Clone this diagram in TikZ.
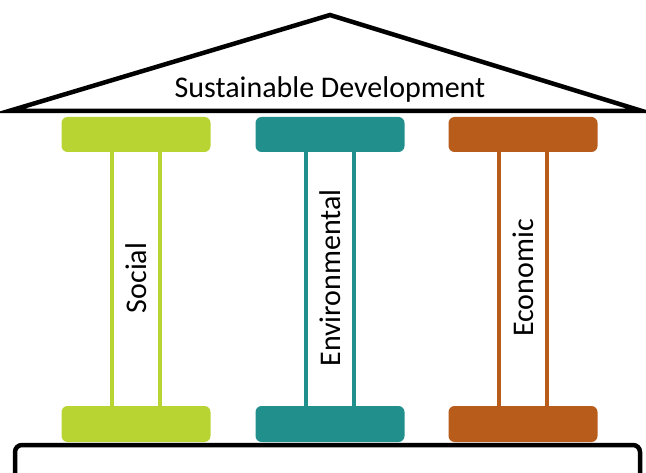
\documentclass[tikz,border=0pt]{standalone}
\usepackage{fontspec}
\setmainfont{Carlito}
\definecolor{cgreen}{HTML}{B8D432}
\definecolor{cteal}{HTML}{21908D}
\definecolor{corange}{HTML}{B85C1C}
\begin{document}
\begin{tikzpicture}[x=1pt,y=-1pt,
  capbox/.style={rounded corners=6pt,fill=#1,draw=none},
  shaft/.style={draw=#1,line width=4pt},
  roofline/.style={draw=black,line width=4.5pt,line join=miter},
  lbl/.style={font=\fontsize{30}{36}\selectfont,inner sep=0pt,text=black}]
\useasboundingbox (0,0) rectangle (646,473);
% roof
\coordinate (apex) at (330,15);
\coordinate (rl) at (9,111);
\coordinate (rr) at (642,111);
\draw[roofline] (rl) -- (apex) -- (rr) -- cycle;
\node[lbl,anchor=base] (title) at (330,98) {Sustainable Development};
% columns
\foreach \cx/\col/\txt/\nm in {136/cgreen/Social/soc,330/cteal/Environmental/env,523/corange/Economic/eco}{
  \fill[capbox=\col] (\cx-74.5,117) rectangle (\cx+74.5,152);
  \fill[capbox=\col] (\cx-74.5,406) rectangle (\cx+74.5,442);
  \draw[shaft=\col] (\cx-24,150) -- (\cx-24,408);
  \draw[shaft=\col] (\cx+24,150) -- (\cx+24,408);
  \node[lbl,rotate=90] (\nm) at (\cx,278) {\txt};
}
% base
\draw[line width=4.5pt,rounded corners=7pt] (15,480) -- (15,445) -- (640,445) -- (640,480);
\end{tikzpicture}
\end{document}
